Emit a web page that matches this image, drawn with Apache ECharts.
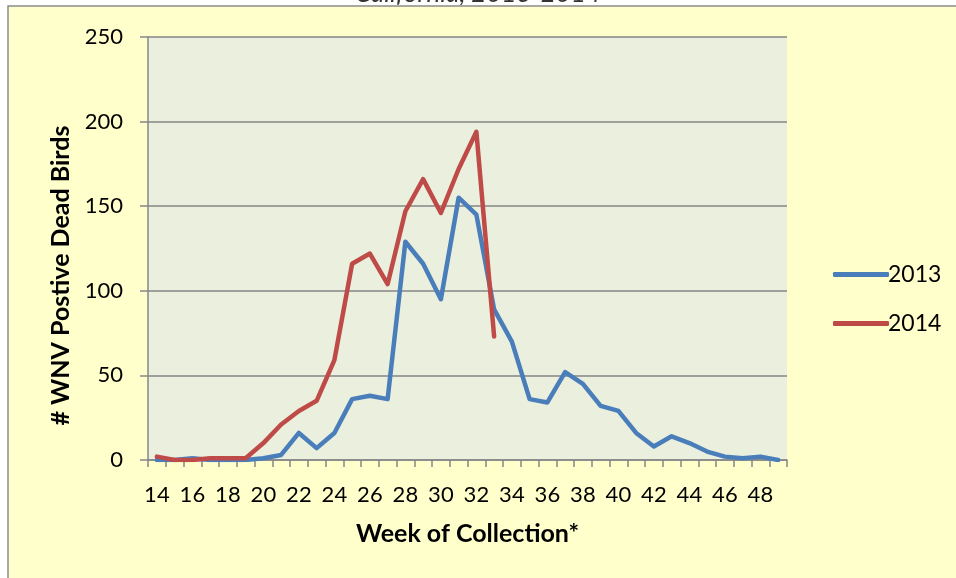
<!DOCTYPE html>
<html>
<head>
<meta charset="utf-8">
<script src="https://cdn.jsdelivr.net/npm/echarts@6/dist/echarts.min.js"></script>
<style>
  html, body { margin: 0; padding: 0; background: #ffffff; }
  #chart { width: 956px; height: 578px; }
</style>
</head>
<body>
<div id="chart"></div>
<script>
// weeks 14..49
const weeks = [];
for (let w = 14; w <= 49; w++) weeks.push(String(w));

const birds2013 = [0, 0, 1, 0, 0, 0, 1, 3, 16, 7, 16, 36, 38, 36, 129, 116, 95, 155, 145, 89,
  70, 36, 34, 52, 45, 32, 29, 16, 8, 14, 10, 5, 2, 1, 2, 0];
const birds2014 = [2, 0, 0, 1, 1, 1, 10, 21, 29, 35, 59, 116, 122, 104, 147, 166, 146, 172, 194, 73];

const yTicks = { min: 0, max: 250, interval: 50 };

const chart = echarts.init(document.getElementById('chart'));

const font = 'Lato, "Open Sans", sans-serif';

const option = {
  backgroundColor: '#ffffff',
  animation: false,
  graphic: [
    {
      type: 'text',
      z: 0,
      left: 'center',
      top: -19,
      style: { text: 'California, 2013-2014', font: 'italic 26px ' + font, fill: '#333' }
    },
    {
      type: 'rect',
      z: 1,
      shape: { x: 8, y: 6, width: 960, height: 590 },
      style: { fill: '#ffffcc', stroke: '#8c8c8c', lineWidth: 1.5 }
    }
  ],
  grid: { left: 148, top: 37, right: 169, bottom: 118, show: true, backgroundColor: '#ebefdd', borderWidth: 0, z: 2 },
  legend: {
    orient: 'vertical',
    left: 828,
    top: 258,
    itemGap: 26,
    itemWidth: 56,
    itemHeight: 5,
    icon: 'roundRect',
    z: 5,
    textStyle: { fontSize: 23, color: '#000', fontFamily: font, padding: [0, 0, 0, -6] },
    data: ['2013', '2014']
  },
  xAxis: {
    type: 'category',
    data: weeks,
    z: 3,
    boundaryGap: true,
    name: 'Week of Collection*',
    nameLocation: 'middle',
    nameGap: 61,
    nameTextStyle: { fontSize: 25, fontWeight: 'bold', color: '#000', fontFamily: font },
    axisLine: { lineStyle: { color: '#868686', width: 1.5 } },
    axisTick: { show: true, length: 7, interval: 0, lineStyle: { color: '#868686', width: 1.5 } },
    axisLabel: { interval: 1, fontSize: 22, color: '#000', fontFamily: font, margin: 24 },
    splitLine: { show: false }
  },
  yAxis: {
    type: 'value',
    z: 3,
    min: yTicks.min,
    max: yTicks.max,
    interval: yTicks.interval,
    name: '# WNV Postive Dead Birds',
    nameLocation: 'middle',
    nameGap: 74,
    nameTextStyle: { fontSize: 25, fontWeight: 'bold', color: '#000', fontFamily: font, padding: [0, 54, 0, 0] },
    axisLine: { show: true, lineStyle: { color: '#868686', width: 1.5 } },
    axisTick: { show: true, length: 8, lineStyle: { color: '#868686', width: 1.5 } },
    axisLabel: { fontSize: 22, color: '#000', fontFamily: font, margin: 25 },
    splitLine: { lineStyle: { color: '#868686', width: 1.5 } }
  },
  series: [
    {
      name: '2013',
      type: 'line',
      data: birds2013,
      symbol: 'none',
      z: 4,
      lineStyle: { color: '#4a7ebb', width: 4.5, cap: 'round', join: 'round' },
      itemStyle: { color: '#4a7ebb' }
    },
    {
      name: '2014',
      type: 'line',
      data: birds2014,
      symbol: 'none',
      z: 5,
      lineStyle: { color: '#be4b48', width: 4.5, cap: 'round', join: 'round' },
      itemStyle: { color: '#be4b48' }
    }
  ]
};

chart.setOption(option);
</script>
</body>
</html>
